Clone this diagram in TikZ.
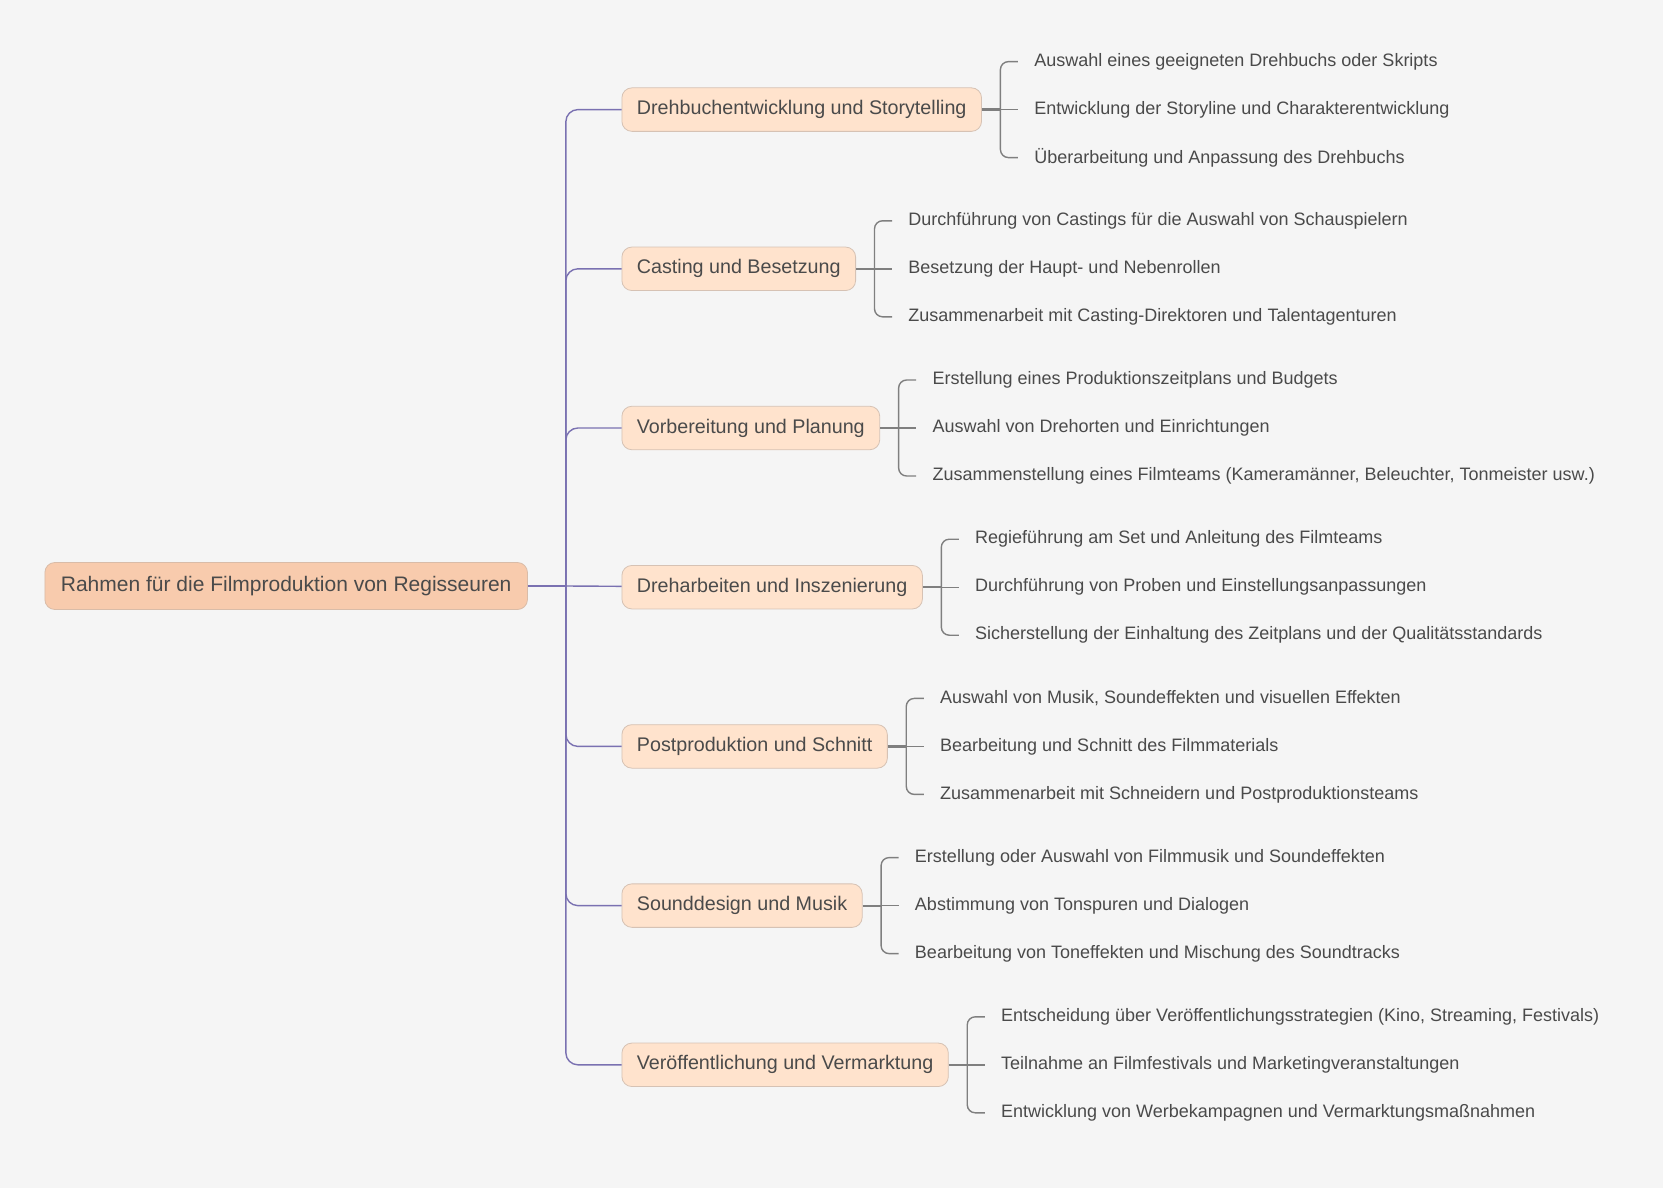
\documentclass[tikz,border=0pt]{standalone}
\usepackage{fontspec}
\setmainfont{Liberation Sans}
\usetikzlibrary{positioning}
\definecolor{bgcol}{HTML}{F5F5F5}
\definecolor{rootfill}{HTML}{F8CBAD}
\definecolor{rootline}{HTML}{D9BCA8}
\definecolor{branchfill}{HTML}{FFE3CD}
\definecolor{branchline}{HTML}{D6C2B4}
\definecolor{txtcol}{HTML}{4A4A4A}
\definecolor{trunkcol}{HTML}{7A71B1}
\definecolor{leafcol}{HTML}{7F7F7F}
\tikzstyle{rootbox} = [rectangle, rounded corners=5pt, minimum height=23.5pt, inner xsep=8pt,
    draw=rootline, fill=rootfill, text=txtcol, font=\fontsize{10.5}{12}\selectfont]
\tikzstyle{branch}  = [rectangle, rounded corners=5pt, minimum height=21.75pt, inner xsep=7.5pt,
    draw=branchline, fill=branchfill, text=txtcol, font=\fontsize{9.85}{11}\selectfont]
\tikzstyle{leaf}    = [rectangle, minimum height=23.6pt, inner xsep=8pt, inner ysep=0pt,
    text=txtcol, font=\fontsize{9}{10}\selectfont]
\tikzstyle{hubline} = [line width=1.2pt, draw=trunkcol]
\tikzstyle{trunk}   = [line width=0.7pt, draw=trunkcol, rounded corners=6pt]
\tikzstyle{stem}    = [line width=1.1pt, draw=leafcol]
\tikzstyle{twig}    = [line width=0.7pt, draw=leafcol, rounded corners=4pt]

\begin{document}
\begin{tikzpicture}[node distance=57.45pt]
    \fill [bgcol] (0pt,0pt) rectangle (831.5pt,-594pt);

    \node (root) [rootbox, anchor=west] at (22.25pt,-293pt) {Rahmen für die Filmproduktion von Regisseuren};
    \coordinate (hub) at ([xshift=19pt]root.east);

    \node (b1) [branch, anchor=west] at (310.75pt,-54.8pt) {Drehbuchentwicklung und Storytelling};
    \node (b2) [branch, below=of b1.south west, anchor=north west] {Casting und Besetzung};
    \node (b3) [branch, below=of b2.south west, anchor=north west] {Vorbereitung und Planung};
    \node (b4) [branch, below=of b3.south west, anchor=north west] {Dreharbeiten und Inszenierung};
    \node (b5) [branch, below=of b4.south west, anchor=north west] {Postproduktion und Schnitt};
    \node (b6) [branch, below=of b5.south west, anchor=north west] {Sounddesign und Musik};
    \node (b7) [branch, below=of b6.south west, anchor=north west] {Veröffentlichung und Vermarktung};

    % Blätter
    \node (b1b) [leaf, right=18pt of b1] {Entwicklung der Storyline und Charakterentwicklung};
    \node (b1a) [leaf, above=0pt of b1b.north west, anchor=south west] {Auswahl eines geeigneten Drehbuchs oder Skripts};
    \node (b1c) [leaf, below=0pt of b1b.south west, anchor=north west] {Überarbeitung und Anpassung des Drehbuchs};

    \node (b2b) [leaf, right=18pt of b2] {Besetzung der Haupt- und Nebenrollen};
    \node (b2a) [leaf, above=0pt of b2b.north west, anchor=south west] {Durchführung von Castings für die Auswahl von Schauspielern};
    \node (b2c) [leaf, below=0pt of b2b.south west, anchor=north west] {Zusammenarbeit mit Casting-Direktoren und Talentagenturen};

    \node (b3b) [leaf, right=18pt of b3] {Auswahl von Drehorten und Einrichtungen};
    \node (b3a) [leaf, above=0pt of b3b.north west, anchor=south west] {Erstellung eines Produktionszeitplans und Budgets};
    \node (b3c) [leaf, below=0pt of b3b.south west, anchor=north west] {Zusammenstellung eines Filmteams (Kameramänner, Beleuchter, Tonmeister usw.)};

    \node (b4b) [leaf, right=18pt of b4] {Durchführung von Proben und Einstellungsanpassungen};
    \node (b4a) [leaf, above=0pt of b4b.north west, anchor=south west] {Regieführung am Set und Anleitung des Filmteams};
    \node (b4c) [leaf, below=0pt of b4b.south west, anchor=north west] {Sicherstellung der Einhaltung des Zeitplans und der Qualitätsstandards};

    \node (b5b) [leaf, right=18pt of b5] {Bearbeitung und Schnitt des Filmmaterials};
    \node (b5a) [leaf, above=0pt of b5b.north west, anchor=south west] {Auswahl von Musik, Soundeffekten und visuellen Effekten};
    \node (b5c) [leaf, below=0pt of b5b.south west, anchor=north west] {Zusammenarbeit mit Schneidern und Postproduktionsteams};

    \node (b6b) [leaf, right=18pt of b6] {Abstimmung von Tonspuren und Dialogen};
    \node (b6a) [leaf, above=0pt of b6b.north west, anchor=south west] {Erstellung oder Auswahl von Filmmusik und Soundeffekten};
    \node (b6c) [leaf, below=0pt of b6b.south west, anchor=north west] {Bearbeitung von Toneffekten und Mischung des Soundtracks};

    \node (b7b) [leaf, right=18pt of b7] {Teilnahme an Filmfestivals und Marketingveranstaltungen};
    \node (b7a) [leaf, above=0pt of b7b.north west, anchor=south west] {Entscheidung über Veröffentlichungsstrategien (Kino, Streaming, Festivals)};
    \node (b7c) [leaf, below=0pt of b7b.south west, anchor=north west] {Entwicklung von Werbekampagnen und Vermarktungsmaßnahmen};

    % Stamm
    \draw [hubline] (root) -- (hub);
    \draw [trunk] (hub) |- (b1);
    \draw [trunk] (hub) |- (b2);
    \draw [trunk] (hub) |- (b3);
    \draw [trunk] (hub) -- (b4);
    \draw [trunk] (hub) |- (b5);
    \draw [trunk] (hub) |- (b6);
    \draw [trunk] (hub) |- (b7);

    % Klammern
    \coordinate (k1) at ([xshift=9.25pt]b1.east);
    \coordinate (k2) at ([xshift=9.25pt]b2.east);
    \coordinate (k3) at ([xshift=9.25pt]b3.east);
    \coordinate (k4) at ([xshift=9.25pt]b4.east);
    \coordinate (k5) at ([xshift=9.25pt]b5.east);
    \coordinate (k6) at ([xshift=9.25pt]b6.east);
    \coordinate (k7) at ([xshift=9.25pt]b7.east);

    \draw [stem] (b1) -- (k1);  \draw [twig] (b1a) -| (k1) |- (b1c);  \draw [twig] (k1) -- (b1b);
    \draw [stem] (b2) -- (k2);  \draw [twig] (b2a) -| (k2) |- (b2c);  \draw [twig] (k2) -- (b2b);
    \draw [stem] (b3) -- (k3);  \draw [twig] (b3a) -| (k3) |- (b3c);  \draw [twig] (k3) -- (b3b);
    \draw [stem] (b4) -- (k4);  \draw [twig] (b4a) -| (k4) |- (b4c);  \draw [twig] (k4) -- (b4b);
    \draw [stem] (b5) -- (k5);  \draw [twig] (b5a) -| (k5) |- (b5c);  \draw [twig] (k5) -- (b5b);
    \draw [stem] (b6) -- (k6);  \draw [twig] (b6a) -| (k6) |- (b6c);  \draw [twig] (k6) -- (b6b);
    \draw [stem] (b7) -- (k7);  \draw [twig] (b7a) -| (k7) |- (b7c);  \draw [twig] (k7) -- (b7b);
\end{tikzpicture}
\end{document}
